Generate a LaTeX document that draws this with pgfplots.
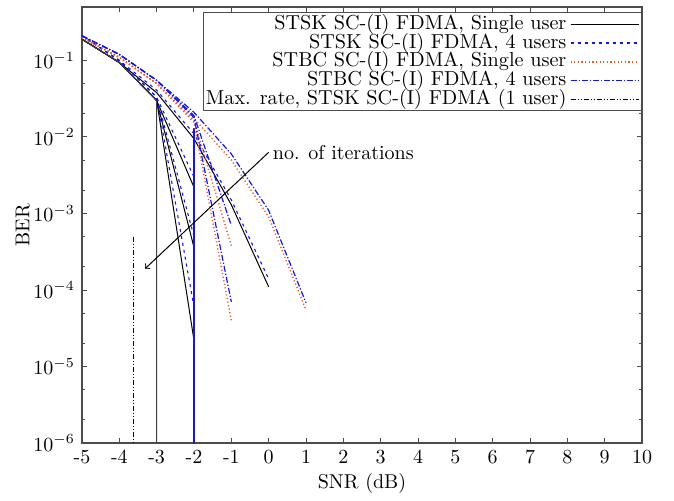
\documentclass[border=0pt]{standalone}
\usepackage{pgfplots}
\pgfplotsset{compat=1.18}
\definecolor{stbcred}{RGB}{240,90,35}
\definecolor{stblue}{RGB}{20,20,240}

\tikzset{
  stsk1/.style={color=black, draw=black, line width=0.5pt},
  stsk4/.style={color=stblue, draw=stblue, line width=0.55pt, dash pattern=on 1.5pt off 2pt},
  stbc1/.style={color=stbcred, draw=stbcred, line width=0.7pt, dash pattern=on 0.6pt off 1.2pt},
  stbc4/.style={color=stblue, draw=stblue, line width=0.6pt, dash pattern=on 3pt off 1pt on 0.6pt off 1pt},
  maxrate/.style={color=black, draw=black, line width=0.5pt, dash pattern=on 2.5pt off 1pt on 0.5pt off 1pt on 0.5pt off 1pt},
}

\begin{document}
\begin{tikzpicture}
\begin{semilogyaxis}[
  scale only axis,
  width=280pt, height=218pt,
  xmin=-5, xmax=10, ymin=1e-6, ymax=0.5,
  xtick={-5,-4,-3,-2,-1,0,1,2,3,4,5,6,7,8,9,10},
  xticklabels={-5,-4,-3,-2,-1,0,1,2,3,4,5,6,7,8,9,10},
  ytick={1e-6,1e-5,1e-4,1e-3,1e-2,1e-1},
  minor ytick={2e-6,5e-6,2e-5,5e-5,2e-4,5e-4,2e-3,5e-3,2e-2,5e-2,2e-1,5e-1},
  major tick length=2.5pt, minor tick length=1.5pt,
  axis line style={black!70, line width=0.6pt},
  tick style={black!70, line width=0.5pt},
  xlabel={SNR (dB)}, ylabel={BER},
  xlabel style={yshift=2pt},
  ylabel style={yshift=-5pt},
  legend cell align=right,
  legend plot pos=right,
  legend image code/.code={
    \draw[#1] (0pt,0pt) -- (27pt,0pt);
    \path (0pt,0pt) -- (34pt,0pt);
  },
  legend style={
    at={(1,0.988)}, anchor=north east,
    draw=black!70, line width=0.6pt,
    inner sep=1pt, row sep=0pt, column sep=1.5pt,
    font=\fontsize{10.1}{10}\selectfont,
    nodes={inner sep=0.3pt, text height=6.9pt, text depth=1.9pt},
  },
]
% STSK SC-(I) FDMA, single user
\addplot[stsk1] coordinates {(-5,0.19) (-4,0.094) (-3,0.038) (-2,0.0095) (-1,1.3e-3) (0,1.1e-4)};
\addlegendentry{STSK SC-(I) FDMA, Single user}
% STSK SC-(I) FDMA, 4 users
\addplot[stsk4] coordinates {(-5,0.21) (-4,0.1) (-3,0.041) (-2,0.011) (-1,1.5e-3) (0,1.4e-4)};
\addlegendentry{STSK SC-(I) FDMA, 4 users}
% STBC SC-(I) FDMA, single user
\addplot[stbc1] coordinates {(-5,0.2) (-4,0.11) (-3,0.05) (-2,0.0175) (-1,0.005) (0,9e-4) (1,5.5e-5)};
\addlegendentry{STBC SC-(I) FDMA, Single user}
% STBC SC-(I) FDMA, 4 users
\addplot[stbc4] coordinates {(-5,0.21) (-4,0.12) (-3,0.055) (-2,0.021) (-1,0.006) (0,1.1e-3) (1,6.8e-5)};
\addlegendentry{STBC SC-(I) FDMA, 4 users}
% max. rate
\addplot[maxrate] coordinates {(-3.63,5e-4) (-3.63,1e-8)};
\addlegendentry{Max. rate, STSK SC-(I) FDMA (1 user)}

% further iterations
\addplot[stsk1, forget plot] coordinates {(-5,0.19) (-4,0.094) (-3,0.03) (-2,2.2e-3)};
\addplot[stsk1, forget plot] coordinates {(-5,0.19) (-4,0.094) (-3,0.03) (-2,3.6e-4)};
\addplot[stsk1, forget plot] coordinates {(-5,0.19) (-4,0.094) (-3,0.03) (-2,2.2e-5)};
\addplot[stsk1, draw=black!75, forget plot] coordinates {(-5,0.19) (-4,0.094) (-3,0.03) (-3,1e-8)};

\addplot[stsk4, forget plot] coordinates {(-5,0.21) (-4,0.1) (-3,0.033) (-2,3e-3)};
\addplot[stsk4, forget plot] coordinates {(-5,0.21) (-4,0.1) (-3,0.033) (-2,5e-4)};
\addplot[stsk4, forget plot] coordinates {(-5,0.21) (-4,0.1) (-3,0.033) (-2,6e-5)};
\addplot[color=stblue, draw=stblue, line width=0.6pt, forget plot] coordinates {(-2,0.013) (-2,1e-8)};

\addplot[stbc1, forget plot] coordinates {(-5,0.2) (-4,0.11) (-3,0.05) (-2,0.0165) (-1,3.8e-4)};
\addplot[stbc1, forget plot] coordinates {(-5,0.2) (-4,0.11) (-3,0.05) (-2,0.0155) (-1,4e-5)};

\addplot[stbc4, forget plot] coordinates {(-5,0.21) (-4,0.12) (-3,0.055) (-2,0.019) (-1,7e-4)};
\addplot[stbc4, forget plot] coordinates {(-5,0.21) (-4,0.12) (-3,0.055) (-2,0.018) (-1,7e-5)};

\draw[->, line width=0.5pt] (axis cs:0,6.3e-3) -- (axis cs:-3.31,1.9e-4);
\node[anchor=west, inner sep=1pt] at (axis cs:0.05,6.3e-3) {no. of iterations};
\end{semilogyaxis}
\path (current axis.south west) ++(-41pt,-26pt) coordinate (bbl);
\path (current axis.north east) ++(16pt,3.5pt) coordinate (btr);
\path (bbl) rectangle (btr);
\end{tikzpicture}
\end{document}
